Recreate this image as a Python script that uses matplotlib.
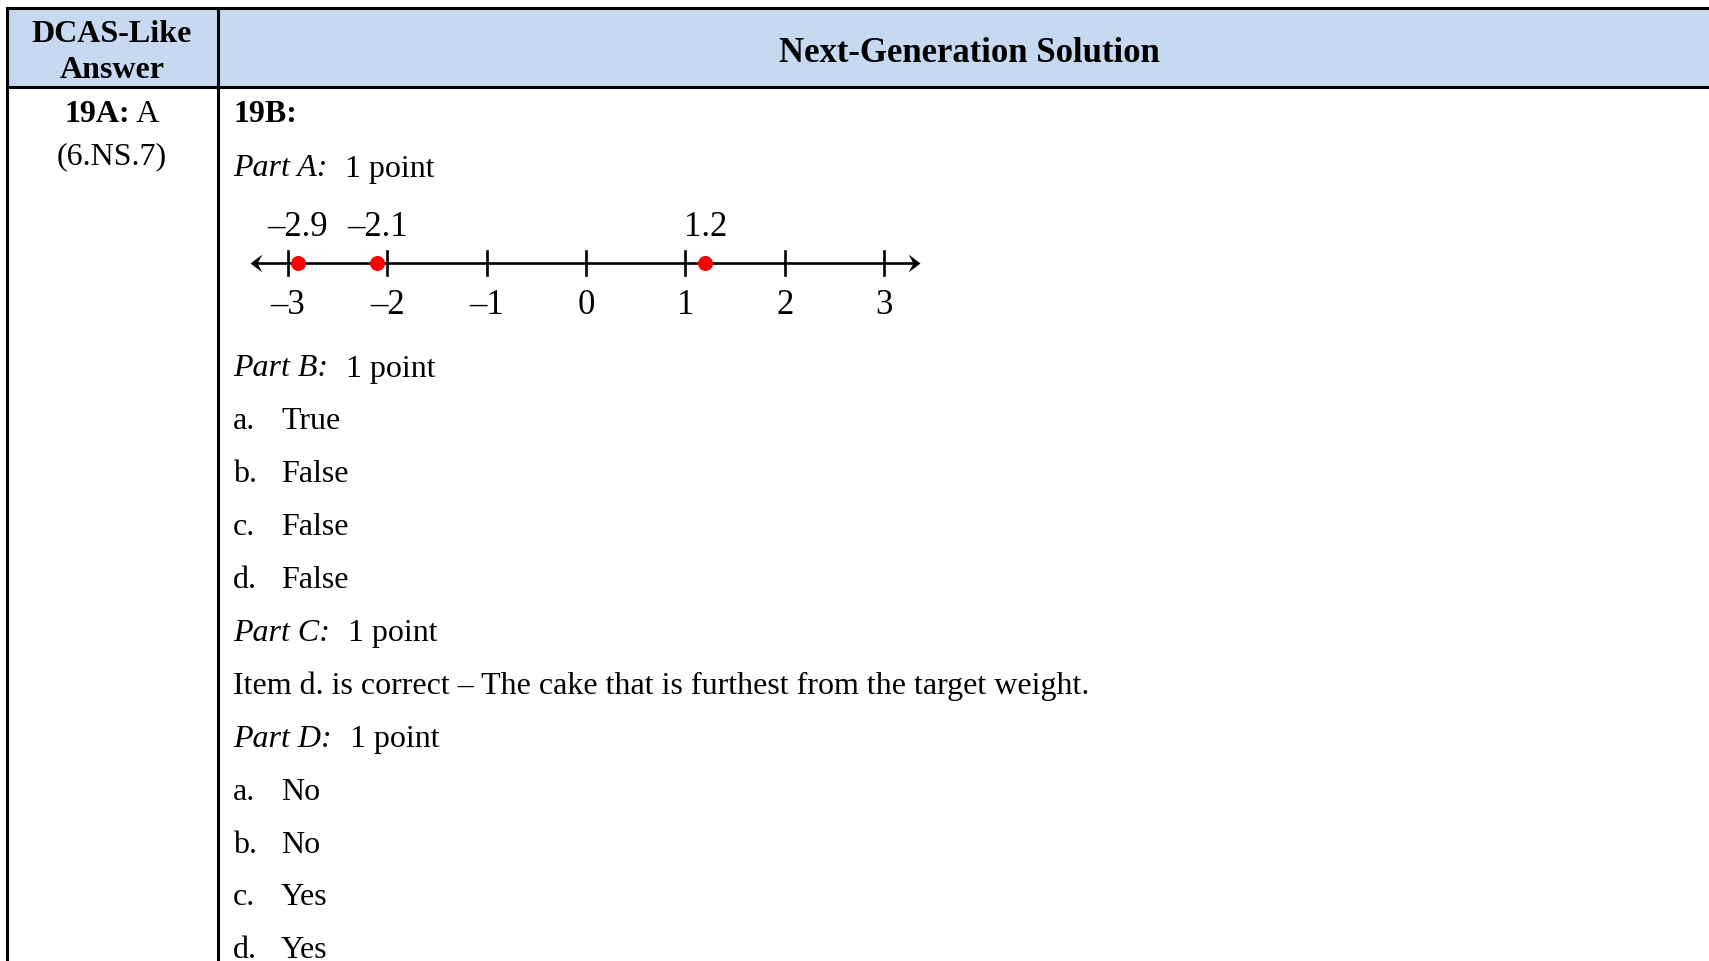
import matplotlib.pyplot as plt
from matplotlib.patches import Rectangle
from matplotlib.path import Path

plt.rcParams['font.family'] = ['Liberation Serif', 'DejaVu Serif']

# number line content
ticks = [-3, -2, -1, 0, 1, 2, 3]
tick_labels = ["\u20133", "\u20132", "\u20131", "0", "1", "2", "3"]
points = [-2.9, -2.1, 1.2]
point_labels = ["\u20132.9", "\u20132.1", "1.2"]

# answer lines
part_b = ["True", "False", "False", "False"]
part_d = ["No", "No", "Yes", "Yes"]
letters = ["a.", "b.", "c.", "d."]
part_c_text = "Item d. is correct \u2013 The cake that is furthest from the target weight."

W, H = 1709, 961
fig = plt.figure(figsize=(W / 100, H / 100), dpi=100)
ax = fig.add_axes([0, 0, 1, 1])
ax.set_xlim(0, W)
ax.set_ylim(H, 0)
ax.axis("off")

# table frame
x_left, x_div, y_top, y_head = 6.5, 218, 7.5, 87
ax.add_patch(Rectangle((x_left, y_top), W + 10 - x_left, y_head - y_top,
                       facecolor="#c6d9f1", edgecolor="none"))
lw = 2.2
ax.plot([x_left, W + 5], [y_top, y_top], color="black", lw=lw)
ax.plot([x_left, W + 5], [y_head, y_head], color="black", lw=lw)
ax.plot([x_left, x_left], [y_top, H + 5], color="black", lw=lw)
ax.plot([x_div, x_div], [y_top, H + 5], color="black", lw=lw)

fs = 23
ax.text(112, 34, "DCAS-Like", ha="center", va="center", fontsize=fs, fontweight="bold")
ax.text(112, 71, "Answer", ha="center", va="center", fontsize=fs, fontweight="bold")
ax.text(969, 53, "Next-Generation Solution", ha="center", va="center",
        fontsize=25, fontweight="bold")

fig.canvas.draw()
renderer = fig.canvas.get_renderer()


def two_part(x, y, first, second, gap=18):
    t = ax.text(x, y, first, ha="left", va="center", fontsize=fs, fontstyle="italic")
    bb = t.get_window_extent(renderer)
    ax.text(bb.x1 + gap, y, second, ha="left", va="center", fontsize=fs)


# left column
t = ax.text(0, 115, "19A:", ha="left", va="center", fontsize=fs, fontweight="bold")
bb1 = t.get_window_extent(renderer)
t2 = ax.text(0, 115, " A", ha="left", va="center", fontsize=fs)
bb2 = t2.get_window_extent(renderer)
total = bb1.width + bb2.width
t.set_x(112 - total / 2)
t2.set_x(112 - total / 2 + bb1.width)
ax.text(112, 157, "(6.NS.7)", ha="center", va="center", fontsize=fs)

# right column
xt = 233
ax.text(xt, 115, "19B:", ha="left", va="center", fontsize=fs, fontweight="bold")
two_part(xt, 169, "Part A:", "1 point")

row = 52.9
y = 369
two_part(xt, y, "Part B:", "1 point")
for letter, ans in zip(letters, part_b):
    y += row
    ax.text(xt, y, letter, ha="left", va="center", fontsize=fs)
    ax.text(281, y, ans, ha="left", va="center", fontsize=fs)
y += row
two_part(xt, y, "Part C:", "1 point")
y += row
ax.text(xt, y, part_c_text, ha="left", va="center", fontsize=fs)
y += row
two_part(xt, y, "Part D:", "1 point")
for letter, ans in zip(letters, part_d):
    y += row
    ax.text(xt, y, letter, ha="left", va="center", fontsize=fs)
    ax.text(281, y, ans, ha="left", va="center", fontsize=fs)

# number line in its own axes, -3 at x=288px, 3 at x=884px, line at y=263px
unit = (884 - 288) / 6
lo, hi = -3.5, 3.5
left_px = 586 + lo * unit
right_px = 586 + hi * unit
nl_top, nl_bot = 200, 330
nax = fig.add_axes([left_px / W, 1 - nl_bot / H, (right_px - left_px) / W, (nl_bot - nl_top) / H])
nax.set_xlim(lo, hi)
nax.set_ylim(-(nl_bot - 263), 263 - nl_top)
nax.axis("off")

x_min, x_max = -3.383, 3.363
head_r = Path([(0, 0), (-1, 0.75), (-0.6, 0), (-1, -0.75), (0, 0)],
              [Path.MOVETO, Path.LINETO, Path.LINETO, Path.LINETO, Path.CLOSEPOLY])
head_l = Path([(0, 0), (1, 0.75), (0.6, 0), (1, -0.75), (0, 0)],
              [Path.MOVETO, Path.LINETO, Path.LINETO, Path.LINETO, Path.CLOSEPOLY])
nax.plot([x_min + 0.05, x_max - 0.05], [0, 0], color="black", lw=1.9)
nax.plot([x_max], [0], marker=head_r, markersize=17, color="black", mew=0)
nax.plot([x_min], [0], marker=head_l, markersize=17, color="black", mew=0)

for tk, lab in zip(ticks, tick_labels):
    nax.plot([tk, tk], [-12, 12], color="black", lw=1.9)
    nax.text(tk, -43, lab, ha="center", va="center", fontsize=25)
nax.plot(points, [0] * len(points), "o", color="#ff0000", markersize=10.8, mew=0)
for p, lab in zip(points, point_labels):
    nax.text(p, 36, lab, ha="center", va="center", fontsize=25)

fig.savefig("out.png", dpi=100)
